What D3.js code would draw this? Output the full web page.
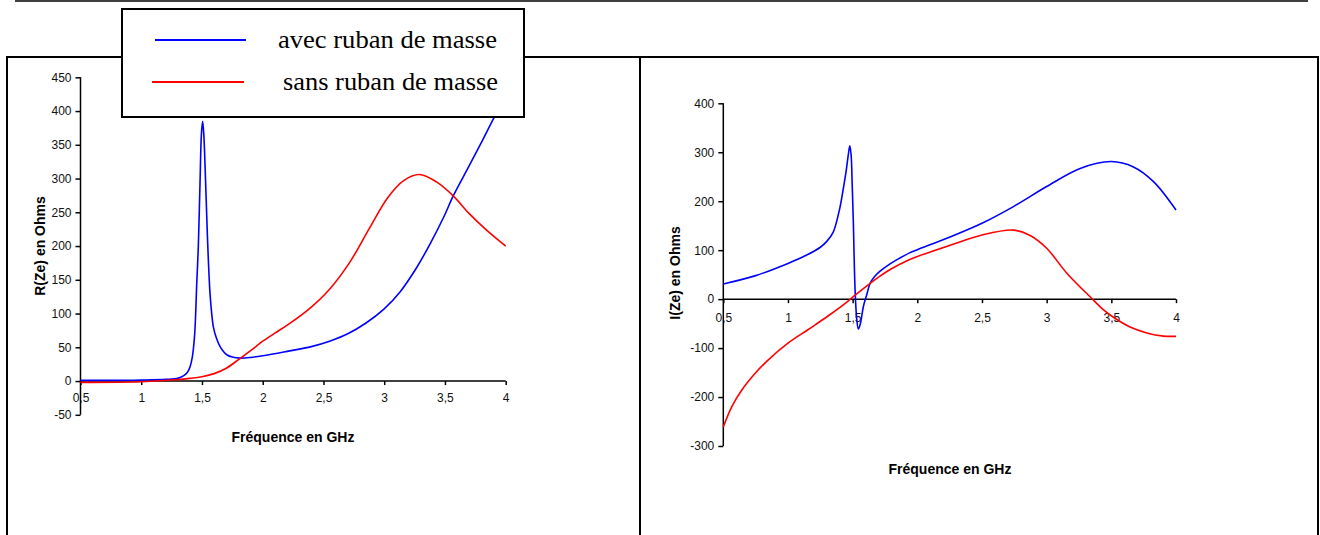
<!DOCTYPE html>
<html><head><meta charset="utf-8">
<script src="https://cdn.jsdelivr.net/npm/d3@7/dist/d3.min.js"></script>
<style>body{margin:0;background:#fff}svg{display:block}</style>
</head><body>
<svg id="c" width="1320" height="535"></svg>
<script>
// ---- Data ----
const seriesNames = ["avec ruban de masse", "sans ruban de masse"];
const xTicks = [0.5, 1, 1.5, 2, 2.5, 3, 3.5, 4];
const xTickLabels = ["0,5", "1", "1,5", "2", "2,5", "3", "3,5", "4"];
const rTicks = [-50, 0, 50, 100, 150, 200, 250, 300, 350, 400, 450];
const iTicks = [-300, -200, -100, 0, 100, 200, 300, 400];

// R(Ze), avec ruban de masse (blue)
const rAvecF = [0.5, 0.8, 1.0, 1.2, 1.3, 1.35, 1.38, 1.40, 1.42, 1.44, 1.457, 1.47, 1.484, 1.495, 1.505, 1.515, 1.525, 1.539, 1.55, 1.566, 1.58, 1.594, 1.62, 1.649, 1.68, 1.704, 1.75, 1.813, 1.9, 2.0, 2.2, 2.4, 2.55, 2.7, 2.85, 3.0, 3.13, 3.27, 3.38, 3.49, 3.57, 3.70, 3.81, 3.91, 4.0];
const rAvecV = [1, 1, 1.5, 2.5, 4, 8, 13, 20, 35, 70, 145, 200, 295, 365, 385, 365, 320, 245, 190, 130, 100, 80, 63, 51, 43, 39, 35.5, 34, 35, 37.5, 44, 51, 59, 70, 86, 107, 132, 169, 204, 243, 275, 319, 357, 392, 420];
// R(Ze), sans ruban de masse (red)
const rSansF = [0.5, 1.0, 1.25, 1.4, 1.5, 1.6, 1.7, 1.81, 1.9, 2.0, 2.1, 2.22, 2.39, 2.55, 2.72, 2.88, 3.03, 3.16, 3.29, 3.43, 3.57, 3.70, 3.84, 4.0];
const rSansV = [-2, -1, 1.5, 4, 6.5, 11, 19, 33, 45, 59, 71, 85, 108, 136, 177, 227, 272, 297, 306, 295, 274, 248, 224, 200];

// I(Ze), avec ruban de masse (blue)
const iAvecF = [0.5, 0.75, 1.0, 1.145, 1.25, 1.3, 1.35, 1.40, 1.428, 1.45, 1.465, 1.478, 1.488, 1.497, 1.505, 1.518, 1.53, 1.544, 1.56, 1.583, 1.61, 1.635, 1.67, 1.712, 1.789, 1.866, 1.944, 2.0, 2.253, 2.5, 2.743, 3.0, 3.259, 3.5, 3.671, 3.826, 4.0];
const iAvecV = [31, 48, 73, 90, 106, 118, 137, 185, 226, 262, 292, 313, 295, 230, 161, 25, -35, -61, -50, -15, 10, 32, 46, 57, 72, 84, 95, 101, 127, 155, 189, 230, 267, 281, 270, 240, 182];
// I(Ze), sans ruban de masse (red)
const iSansF = [0.5, 0.565, 0.642, 0.745, 0.848, 1.0, 1.157, 1.312, 1.46, 1.5, 1.6, 1.7, 1.8, 1.9, 2.0, 2.253, 2.5, 2.743, 2.872, 3.0, 3.156, 3.362, 3.44, 3.516, 3.645, 3.774, 3.903, 4.0];
const iSansV = [-261, -220, -186, -152, -124, -90, -62, -34, -5, 4, 25, 45, 62, 76, 87, 110, 131, 141, 130, 104, 53, -2, -22, -37, -57, -69, -75.5, -76];

const BLUE = "#0000ff", RED = "#ff0000";
const svg = d3.select("#c");

// frame lines
svg.append("line").attr("x1", 15).attr("x2", 1308).attr("y1", 1).attr("y2", 1)
  .attr("stroke", "#000").attr("stroke-width", 1.5);
svg.append("rect").attr("x", 7).attr("y", 57).attr("width", 633).attr("height", 500)
  .attr("fill", "none").attr("stroke", "#000").attr("stroke-width", 2);
svg.append("rect").attr("x", 640).attr("y", 57).attr("width", 678).attr("height", 500)
  .attr("fill", "none").attr("stroke", "#000").attr("stroke-width", 2);

function chart(cfg) {
  const g = svg.append("g");
  const x = d3.scaleLinear().domain([0.5, 4]).range(cfg.xr);
  const y = d3.scaleLinear().domain(cfg.yd).range(cfg.yr);
  const line = d3.line().x(d => x(d[0])).y(d => y(d[1])).curve(d3.curveCatmullRom.alpha(0.5));
  // y axis
  const ya = g.append("g").attr("transform", `translate(${cfg.xr[0]},0)`)
    .call(d3.axisLeft(y).tickValues(cfg.yTicks).tickSize(5).tickPadding(4).tickFormat(d => String(d)));
  ya.select(".domain").remove();
  ya.selectAll("text").attr("font-family", "Liberation Sans, Arial, sans-serif").attr("font-size", 12).attr("fill", "#111");
  ya.selectAll("line").attr("stroke", "#000").attr("stroke-width", 1.5);
  // x axis at y=0
  const xa = g.append("g").attr("transform", `translate(0,${y(0)})`)
    .call(d3.axisBottom(x).tickValues(xTicks).tickSize(4).tickFormat((d, i) => xTickLabels[i]));
  xa.select(".domain").remove();
  xa.selectAll("text").attr("y", cfg.xLabelDy).attr("dy", "0.35em")
    .attr("font-family", "Liberation Sans, Arial, sans-serif").attr("font-size", 12).attr("fill", "#111");
  xa.selectAll("line").attr("stroke", "#000").attr("stroke-width", 1.5);
  // axis lines
  g.append("line").attr("x1", cfg.xr[0]).attr("x2", cfg.xr[1]).attr("y1", y(0)).attr("y2", y(0))
    .attr("stroke", "#000").attr("stroke-width", 1.5);
  g.append("line").attr("x1", cfg.xr[0]).attr("x2", cfg.xr[0]).attr("y1", y(cfg.yd[0])).attr("y2", y(cfg.yd[1]))
    .attr("stroke", "#000").attr("stroke-width", 1.5);
  // series
  cfg.series.forEach(s => {
    g.append("path").datum(s.f.map((f, i) => [f, s.v[i]])).attr("d", line)
      .attr("fill", "none").attr("stroke", s.color).attr("stroke-width", 1.6);
  });
  // titles
  g.append("text").attr("x", cfg.xt[0]).attr("y", cfg.xt[1]).attr("dy", "0.35em").attr("text-anchor", "middle")
    .attr("font-family", "Liberation Sans, Arial, sans-serif").attr("font-weight", "bold").attr("font-size", 14)
    .text("Fréquence en GHz");
  g.append("text").attr("transform", `translate(${cfg.yt[0]},${cfg.yt[1]}) rotate(-90)`).attr("dy", "0.35em")
    .attr("text-anchor", "middle")
    .attr("font-family", "Liberation Sans, Arial, sans-serif").attr("font-weight", "bold").attr("font-size", 14)
    .text(cfg.yTitle);
}

chart({
  xr: [80.5, 505.7], yd: [-50, 450], yr: [414.8, 77.3], yTicks: rTicks, xLabelDy: 17,
  xt: [293, 437], yt: [40, 246], yTitle: "R(Ze) en Ohms",
  series: [{f: rAvecF, v: rAvecV, color: BLUE}, {f: rSansF, v: rSansV, color: RED}]
});
chart({
  xr: [723.3, 1176], yd: [-300, 400], yr: [446, 103.3], yTicks: iTicks, xLabelDy: 18.5,
  xt: [950, 469.5], yt: [675, 273], yTitle: "I(Ze) en Ohms",
  series: [{f: iAvecF, v: iAvecV, color: BLUE}, {f: iSansF, v: iSansV, color: RED}]
});

// legend
const lg = svg.append("g");
lg.append("rect").attr("x", 122).attr("y", 9).attr("width", 402).attr("height", 108)
  .attr("fill", "#fff").attr("stroke", "#000").attr("stroke-width", 2);
const legItems = [
  {name: seriesNames[0], color: BLUE, lx: [155, 246], ly: 40, tx: 278, tw: 219},
  {name: seriesNames[1], color: RED, lx: [152, 244], ly: 82, tx: 283, tw: 215}
];
legItems.forEach(it => {
  lg.append("line").attr("x1", it.lx[0]).attr("x2", it.lx[1]).attr("y1", it.ly).attr("y2", it.ly)
    .attr("stroke", it.color).attr("stroke-width", 2);
  lg.append("text").attr("x", it.tx).attr("y", it.ly + 8)
    .attr("font-family", "Liberation Serif, Times New Roman, serif").attr("font-size", 26)
    .attr("textLength", it.tw).attr("lengthAdjust", "spacingAndGlyphs")
    .text(it.name);
});
</script>
</body></html>
